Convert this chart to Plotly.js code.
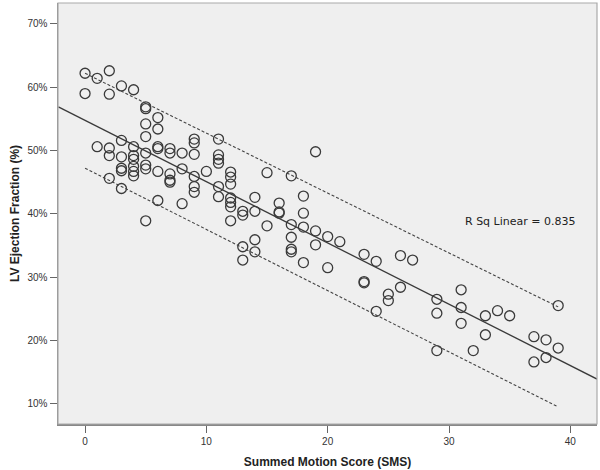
<!DOCTYPE html>
<html>
<head>
<meta charset="utf-8">
<script src="https://cdn.plot.ly/plotly-3.0.1.min.js"></script>
<style>html,body{margin:0;padding:0;background:#fff;}#chart{width:600px;height:470px;}</style>
</head>
<body>
<div id="chart"></div>
<script>
// Summed Motion Score (x) for each patient
const sms = [
  0,0,
  1,1,
  2,2,2,2,2,
  3,3,3,3,3,3,
  4,4,4,4,4,4,4,
  5,5,5,5,5,5,5,5,
  6,6,6,6,6,6,
  7,7,7,7,7,
  8,8,8,
  9,9,9,9,9,9,
  10,
  11,11,11,11,11,11,
  12,12,12,12,12,12,12,
  13,13,13,13,
  14,14,14,14,
  15,15,
  16,16,16,
  17,17,17,17,17,
  18,18,18,18,
  19,19,19,
  20,20,
  21,
  23,23,23,
  24,24,
  25,25,
  26,26,
  27,
  29,29,29,
  31,31,31,
  32,
  33,33,
  34,
  35,
  37,37,
  38,38,
  39,39
];
// LV Ejection Fraction (%) for each patient
const lvef = [
  62.2,59.0,
  61.4,50.6,
  62.6,58.9,50.4,49.2,45.6,
  60.2,51.6,49.0,47.2,46.8,44.0,
  59.6,50.6,49.2,48.6,47.5,46.7,46.0,
  56.9,56.6,54.2,52.2,49.6,47.7,47.1,38.9,
  55.2,53.4,50.6,50.3,46.7,42.1,
  50.3,49.6,46.3,45.3,45.0,
  49.6,47.1,41.6,
  51.8,51.2,49.4,45.9,44.3,43.4,
  46.7,
  51.8,49.3,48.6,48.0,44.3,42.7,
  46.6,45.8,44.7,42.5,41.8,41.1,38.9,
  40.4,39.8,34.8,32.7,
  42.6,40.4,35.9,34.0,
  46.5,38.1,
  41.7,40.3,40.1,
  46.0,38.3,36.3,34.4,34.0,
  42.8,40.1,37.9,32.3,
  49.8,37.3,35.1,
  36.4,31.5,
  35.6,
  33.6,29.3,29.1,
  32.5,24.6,
  27.3,26.3,
  33.4,28.4,
  32.7,
  26.5,24.3,18.4,
  28.0,25.2,22.7,
  18.4,
  23.9,20.9,
  24.7,
  23.9,
  20.6,16.6,
  20.1,17.3,
  25.5,18.8
];
// Fit line and prediction interval end points
const fitX = [-2.2, 42.2];
const fitY = [56.9, 13.9];
const bandX = [0, 39];
const upperY = [62.2, 25.3];
const lowerY = [47.2, 9.5];
const xTicks = [0, 10, 20, 30, 40];
const yTicks = [10, 20, 30, 40, 50, 60, 70];
const rsqLabel = 'R Sq Linear = 0.835';

const traces = [
  {x: sms, y: lvef, type: 'scatter', mode: 'markers',
   marker: {symbol: 'circle-open', size: 10, color: '#3a3a3a', line: {width: 1.3, color: '#3a3a3a'}},
   hoverinfo: 'x+y'},
  {x: fitX, y: fitY, type: 'scatter', mode: 'lines', line: {color: '#3a3a3a', width: 1.3}},
  {x: bandX, y: upperY, type: 'scatter', mode: 'lines', line: {color: '#444', width: 1.1, dash: '3px,2px'}},
  {x: bandX, y: lowerY, type: 'scatter', mode: 'lines', line: {color: '#444', width: 1.1, dash: '3px,2px'}}
];

const layout = {
  width: 600, height: 470,
  margin: {l: 58, r: 3, t: 3, b: 46},
  paper_bgcolor: '#ffffff',
  plot_bgcolor: '#efefef',
  showlegend: false,
  font: {family: 'Liberation Sans, Arial, sans-serif', color: '#333'},
  xaxis: {
    range: [-2.23, 42.2], tickvals: xTicks, ticktext: xTicks.map(String),
    showgrid: false, zeroline: false,
    showline: true, linecolor: '#888', linewidth: 1.5, mirror: false,
    ticks: 'outside', ticklen: 7, tickcolor: '#666', tickwidth: 1,
    tickfont: {size: 10, color: '#333'},
    title: {text: 'Summed Motion Score (SMS)', font: {size: 12, color: '#222', weight: 'bold'}, standoff: 12}
  },
  yaxis: {
    range: [6.8, 73.3], tickvals: yTicks, ticktext: yTicks.map(v => v + '%'),
    showgrid: false, zeroline: false,
    showline: true, linecolor: '#888', linewidth: 1.5, mirror: false,
    ticks: 'outside', ticklen: 7, tickcolor: '#666', tickwidth: 1,
    tickfont: {size: 10, color: '#333'},
    title: {text: 'LV Ejection Fraction (%)', font: {size: 12, color: '#222', weight: 'bold'}, standoff: 5}
  },
  shapes: [
    {type: 'rect', xref: 'paper', yref: 'paper', x0: 0, x1: 1, y0: 0, y1: 1,
     line: {color: '#aaa', width: 1.2}, fillcolor: 'rgba(0,0,0,0)', layer: 'above'}
  ],
  annotations: [
    {x: 35.9, y: 38.8, xref: 'x', yref: 'y', text: rsqLabel, showarrow: false,
     font: {family: 'DejaVu Sans, sans-serif', size: 11, color: '#222'}}
  ]
};

Plotly.newPlot('chart', traces, layout, {displayModeBar: false, staticPlot: true});
</script>
</body>
</html>
